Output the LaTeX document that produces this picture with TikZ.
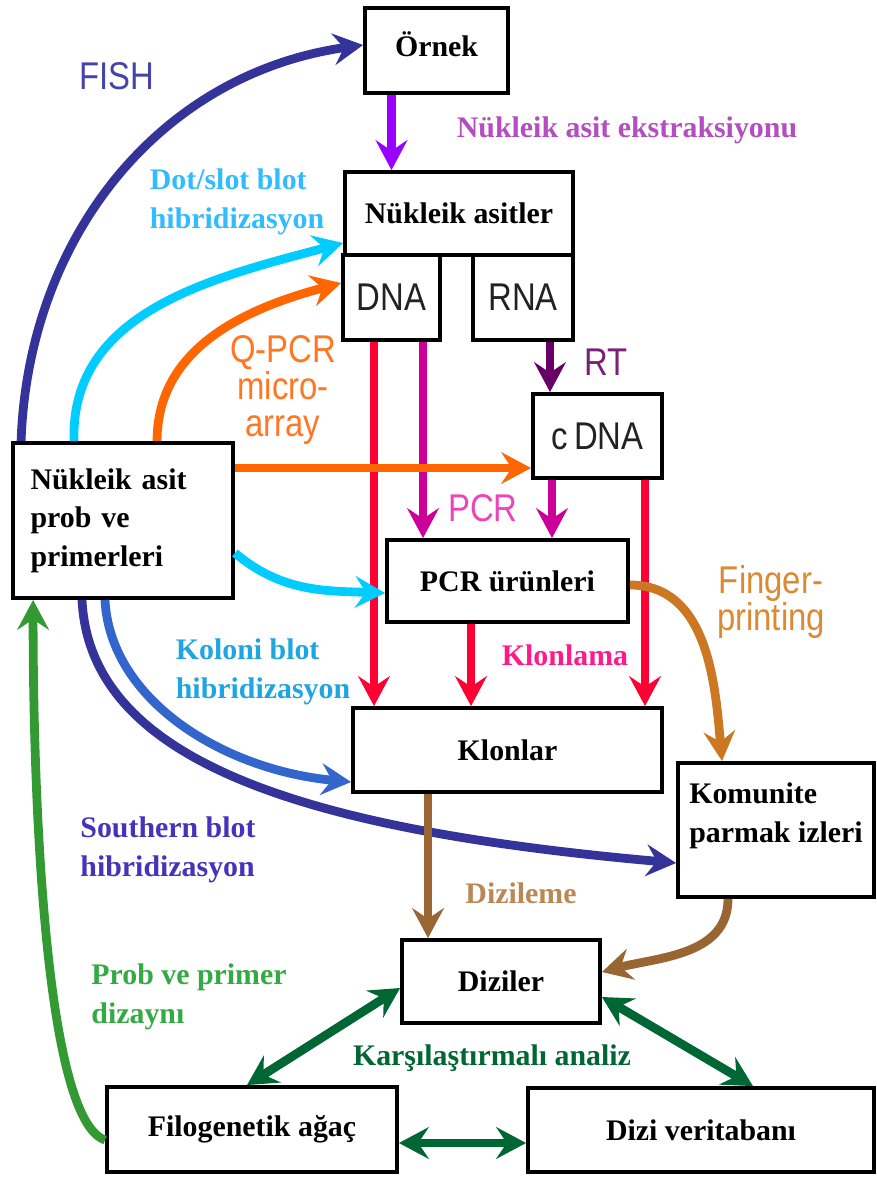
\documentclass[tikz,border=0pt]{standalone}
\usepackage{fontspec}
\setmainfont{Liberation Serif}
\newfontfamily\narrowsans[FakeStretch=0.85]{Liberation Sans}
\usetikzlibrary{arrows.meta}

\definecolor{extviolet}{HTML}{9900FF}
\definecolor{extlbl}{HTML}{B44DBF}
\definecolor{fishblue}{HTML}{333399}
\definecolor{fishlbl}{HTML}{4444AA}
\definecolor{dotcyan}{HTML}{00CCFF}
\definecolor{dotlbl}{HTML}{33BBFF}
\definecolor{qpcrorange}{HTML}{FF6600}
\definecolor{qpcrlbl}{HTML}{FF7722}
\definecolor{clonered}{HTML}{FF0033}
\definecolor{pcrmagenta}{HTML}{CC0099}
\definecolor{pcrlbl}{HTML}{EE44BB}
\definecolor{rtpurple}{HTML}{660066}
\definecolor{rtlbl}{HTML}{772277}
\definecolor{klonlbl}{HTML}{FF1A8C}
\definecolor{kolonilbl}{HTML}{1FA5E0}
\definecolor{koloniblue}{HTML}{3366CC}
\definecolor{southlbl}{HTML}{4433BB}
\definecolor{designgreen}{HTML}{339933}
\definecolor{designlbl}{HTML}{33AA44}
\definecolor{fingerorange}{HTML}{CC7722}
\definecolor{fingerlbl}{HTML}{DD8833}
\definecolor{seqbrown}{HTML}{996633}
\definecolor{seqlbl}{HTML}{BB8855}
\definecolor{compgreen}{HTML}{006633}
\definecolor{darktext}{HTML}{222222}

\newcommand{\boxfont}{\fontsize{17}{22}\selectfont\bfseries}
\newcommand{\sansfont}{\narrowsans\fontsize{22}{21}\selectfont}

\begin{document}
\begin{tikzpicture}[x=0.02cm,y=-0.02cm,>={Stealth[length=17pt,width=18pt,inset=6pt]},
  box/.style={draw,line width=2.2pt,font=\boxfont,inner sep=2pt},
  seqbox/.style={box,font=\sansfont,text=darktext},
  lbl/.style={font=\boxfont,inner sep=0pt,align=left},
  slbl/.style={font=\sansfont,inner sep=0pt,align=center},
  arr/.style={->,line width=5pt},
  twoway/.style={<->,line width=5pt,draw=compgreen}]
\useasboundingbox (0,0) rectangle (876,1180);

\node[box,text depth=2.4mm,minimum width=28.6mm,minimum height=17mm] (ornek) at (436.5,50.5) {Örnek};
\node[box,minimum width=45.6mm,minimum height=16.6mm] (nasit) at (459,213.5) {Nükleik asitler};
\node[seqbox,minimum width=19.4mm,minimum height=17mm] (dna) at (391.5,297.5) {DNA};
\node[seqbox,minimum width=20mm,minimum height=17mm] (rna) at (523,297.5) {RNA};
\node[seqbox,minimum width=25.8mm,minimum height=16.8mm] (cdna) at (597.5,436) {c\,DNA};
\node[box,minimum width=48.2mm,minimum height=16.4mm] (pcr) at (507.5,581) {PCR ürünleri};
\node[box,align=left,text width=37mm,inner xsep=3.5mm,minimum height=31mm] (prob) at (123,520.5) {Nükleik asit\\prob ve\\primerleri};
\node[box,minimum width=61.8mm,minimum height=16.8mm] (klon) at (507.5,750) {Klonlar};
\node[box,align=left,text depth=7mm,minimum width=39.2mm,minimum height=26.8mm] (komun) at (776,830) {Komunite\\parmak izleri};
\node[box,minimum width=39.6mm,minimum height=16.6mm] (dizi) at (501,981.5) {Diziler};
\node[box,minimum width=58mm,minimum height=17mm] (filo) at (252,1129.5) {Filogenetik ağaç};
\node[box,minimum width=69.2mm,minimum height=16.8mm] (dbase) at (701,1130) {Dizi veritabanı};

\node[lbl,text=extlbl] (lext) at (627,130) {Nükleik asit ekstraksiyonu};
\node[slbl,text=fishlbl] (lfish) at (117,76) {FISH};
\node[lbl,text=dotlbl] (ldot) at (237,202) {Dot/slot blot\\hibridizasyon};
\node[slbl,text=qpcrlbl] (lqpcr) at (283,390) {Q-PCR\\micro-\\array};
\node[slbl,text=rtlbl] (lrt) at (606,362) {RT};
\node[slbl,text=pcrlbl] (lpcr) at (483,508) {PCR};
\node[lbl,text=klonlbl] (lklon) at (565,655) {Klonlama};
\node[lbl,text=kolonilbl] (lkoloni) at (263,672) {Koloni blot\\hibridizasyon};
\node[lbl,text=southlbl] (lsouth) at (168,850) {Southern blot\\hibridizasyon};
\node[lbl,text=designlbl] (ldesign) at (189,997) {Prob ve primer\\dizaynı};
\node[slbl,text=fingerlbl] (lfinger) at (771,602) {Finger-\\printing};
\node[lbl,text=seqlbl] (lseq) at (521,893) {Dizileme};
\node[lbl,text=compgreen] (lcomp) at (492,1058) {Karşılaştırmalı analiz};

\draw[arr,draw=extviolet] (dna |- ornek.south) -- (dna |- nasit.north);
\draw[arr,draw=fishblue] ([xshift=2mm]prob.north west) to[out=88,in=188] ([yshift=1.1mm]ornek.west);
\draw[arr,draw=dotcyan] ([xshift=12.6mm]prob.north west) to[out=92,in=195] ([yshift=-5.9mm]nasit.west);
\draw[arr,draw=qpcrorange] ([xshift=29.2mm]prob.north west) to[out=90,in=195] ([yshift=2.9mm]dna.west);

\draw[arr,draw=clonered] ([xshift=-3.5mm]dna.south) -- ([xshift=-3.5mm]dna.south |- klon.north);
\draw[arr,draw=pcrmagenta] ([xshift=6.3mm]dna.south) -- ([xshift=6.3mm]dna.south |- pcr.north);
\draw[arr,draw=rtpurple,line width=4pt] ([xshift=5.4mm]rna.south) -- ([xshift=5.4mm]rna.south |- cdna.north);
\draw[arr,draw=pcrmagenta] ([xshift=-9.1mm]cdna.south) -- ([xshift=-9.1mm]cdna.south |- pcr.north);
\draw[arr,draw=clonered] ([xshift=9.5mm]cdna.south) -- ([xshift=9.5mm]cdna.south |- klon.north);
\draw[arr,draw=clonered] ([xshift=-7.3mm]pcr.south) -- ([xshift=-7.3mm]pcr.south |- klon.north);
\draw[arr,draw=qpcrorange] ([yshift=10.5mm]prob.east) -- ([yshift=10.5mm]prob.east -| cdna.west);
\draw[arr,draw=dotcyan] ([yshift=-6.5mm]prob.east) to[out=-40,in=178] ([yshift=-2.4mm]pcr.west);

\draw[arr,draw=koloniblue] ([xshift=-3.6mm]prob.south) .. controls +(5,100) and +(-128,-12) .. ([yshift=-6.4mm]klon.west);
\draw[arr,draw=fishblue] ([xshift=-8.2mm]prob.south) .. controls +(8,162) and +(-372,-33) .. ([yshift=-6.6mm]komun.west);
\draw[arr,draw=designgreen] ([yshift=-2.1mm]filo.west) .. controls +(-60,-20) and +(0,200) .. ([xshift=4.4mm]prob.south west);
\draw[arr,draw=fingerorange] ([yshift=-0.8mm]pcr.east) to[out=0,in=95] ([xshift=-10.8mm]komun.north);
\draw[arr,draw=seqbrown] ([xshift=-15.9mm]klon.south) -- ([xshift=-15.9mm]klon.south |- dizi.north);
\draw[arr,draw=seqbrown] ([xshift=-9.6mm]komun.south) to[out=-90,in=15] ([yshift=1.9mm]dizi.east);

\draw[twoway] ([yshift=-1.3mm]dizi.west) -- ([xshift=-1mm]filo.north);
\draw[twoway] ([yshift=-3.1mm]dizi.east) -- ([xshift=10.4mm]dbase.north);
\draw[twoway] ([yshift=-2.7mm]filo.east) -- ([yshift=-2.7mm]filo.east -| dbase.west);
\end{tikzpicture}
\end{document}
